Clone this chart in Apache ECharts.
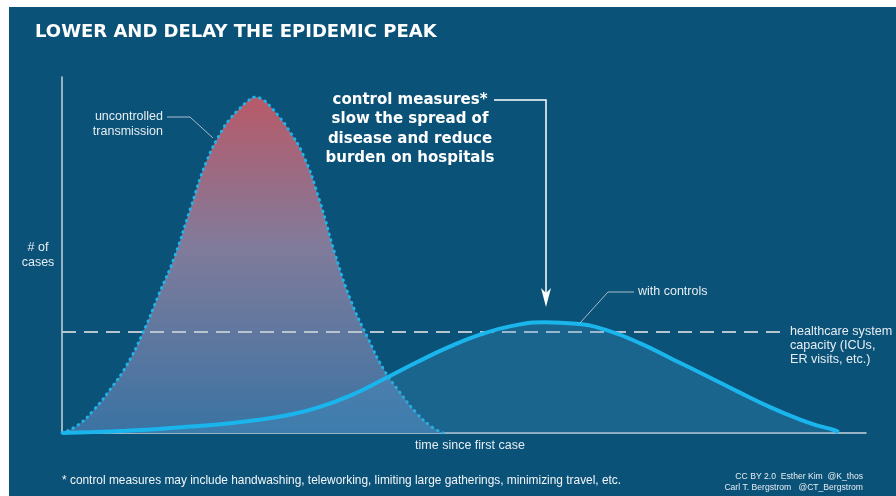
<!DOCTYPE html>
<html>
<head>
<meta charset="utf-8">
<script src="https://cdn.jsdelivr.net/npm/echarts@6/dist/echarts.min.js"></script>
<style>
  html, body { margin: 0; padding: 0; background: #ffffff; width: 896px; height: 496px; overflow: hidden; }
  #chart { position: absolute; left: 9px; top: 7px; width: 887px; height: 489px; }
</style>
</head>
<body>
<div id="chart"></div>
<script>
// ---- data (time in days since first case, cases in % of uncontrolled peak) ----
const uncontrolledDays  = [0, 2, 4, 6, 8, 10, 12, 14, 16, 18, 20, 21, 22, 23, 24, 25, 26, 27, 28, 30, 32, 34, 36, 38, 40, 42, 44, 46, 47.4];
const uncontrolledCases = [0, 2.4, 7, 13, 20, 29.5, 41, 52.5, 67, 81, 90.5, 93.8, 96.4, 98.6, 100, 99.2, 97, 94.2, 91, 82.8, 69.5, 53, 39, 28.5, 19, 12.2, 6.2, 1.8, 0];
const controlsDays  = [0, 4, 8, 12, 16, 20, 24, 28, 32, 36, 40, 44, 48, 52, 56, 60, 64, 68, 72, 76, 80, 84, 88, 92, 94, 96, 96.6];
const controlsCases = [0, 0.3, 0.7, 1.2, 1.9, 2.7, 3.8, 5.3, 7.7, 11.3, 16.0, 20.9, 25.5, 29.3, 31.9, 33.0, 32.5, 30.4, 26.6, 21.9, 17.2, 12.4, 7.8, 3.8, 2.2, 0.9, 0.2];
const capacityLevel = 30.1;
const capacityEndDay = 89.4;

const titleText = 'LOWER AND DELAY THE EPIDEMIC PEAK';
const uncontrolledLabel = ['uncontrolled', 'transmission'];
const controlNote = ['control measures*', 'slow the spread of', 'disease and reduce', 'burden on hospitals'];
const withControlsLabel = 'with controls';
const capacityLabel = ['healthcare system', 'capacity (ICUs,', 'ER visits, etc.)'];
const yAxisLabel = ['# of', 'cases'];
const xAxisLabel = 'time since first case';
const footnote = '* control measures may include handwashing, teleworking, limiting large gatherings, minimizing travel, etc.';
const credits = ['CC BY 2.0  Esther Kim  @K_thos', 'Carl T. Bergstrom   @CT_Bergstrom'];

// ---- chart ----
const OX = 9, OY = 7; // panel offset in page
const FONT = '"Liberation Sans", Arial, Helvetica, sans-serif';
const BOLDFONT = '"DejaVu Sans", "Liberation Sans", Arial, sans-serif';
const chart = echarts.init(document.getElementById('chart'), null, { renderer: 'canvas' });

function zip(a, b) { return a.map((v, i) => [v, b[i]]); }
function T(text, x, y, o) {
  o = o || {};
  return {
    type: 'text', x: x - OX, y: y - OY, z: 100,
    style: {
      text: text, fill: o.fill || '#ffffff',
      font: (o.weight || 'normal') + ' ' + (o.size || 12.5) + 'px ' + (o.family || FONT),
      textAlign: o.align || 'left', textVerticalAlign: 'middle'
    }
  };
}
function L(points, color, width) {
  return {
    type: 'polyline', z: 100,
    shape: { points: points.map(p => [p[0] - OX, p[1] - OY]) },
    style: { stroke: color, lineWidth: width, fill: null }
  };
}

const graphics = [];
graphics.push(T(titleText, 35, 32, { size: 18, weight: 'bold', family: BOLDFONT }));
uncontrolledLabel.forEach((s, i) => graphics.push(T(s, 163, 117 + i * 15, { align: 'right', fill: '#e6edf2' })));
graphics.push(L([[167, 117], [190, 117], [213, 138]], '#a9bccb', 1));
controlNote.forEach((s, i) => graphics.push(T(s, 410, 100 + i * 19.5, { align: 'center', size: 15, weight: 'bold', family: BOLDFONT })));
graphics.push(L([[494, 100], [546, 100], [546, 296]], '#ffffff', 1.5));
graphics.push({
  type: 'polygon', z: 100,
  shape: { points: [[541 - OX, 288 - OY], [546 - OX, 293 - OY], [551 - OX, 288 - OY], [546 - OX, 307 - OY]] },
  style: { fill: '#ffffff' }
});
graphics.push(T(withControlsLabel, 638, 292, { fill: '#e6edf2' }));
graphics.push(L([[634, 292], [608, 292], [580, 323]], '#a9bccb', 1));
capacityLabel.forEach((s, i) => graphics.push(T(s, 790, 332 + i * 14, { size: 12.6, fill: '#e6edf2' })));
yAxisLabel.forEach((s, i) => graphics.push(T(s, 38, 248 + i * 15, { align: 'center', fill: '#e6edf2' })));
graphics.push(T(xAxisLabel, 470, 446, { align: 'center', fill: '#e6edf2' }));
graphics.push(T(footnote, 62, 481, { size: 11.9, fill: '#f2f5f8' }));
credits.forEach((s, i) => graphics.push(T(s, 863, 477 + i * 11, { align: 'right', size: 8.6, fill: '#e6edf2' })));

const axisCommon = {
  type: 'value',
  axisLine: { show: true, onZero: false, lineStyle: { color: '#c9d4dd', width: 1.5 } },
  axisTick: { show: false },
  axisLabel: { show: false },
  splitLine: { show: false }
};

chart.setOption({
  animation: false,
  backgroundColor: '#0a5278',
  grid: { left: 53, right: 30, top: 70, bottom: 63 },
  xAxis: Object.assign({}, axisCommon, { min: 0, max: 100 }),
  yAxis: Object.assign({}, axisCommon, { min: 0, max: 106 }),
  graphic: graphics,
  series: [
    {
      name: 'uncontrolled transmission', type: 'line', z: 2,
      data: zip(uncontrolledDays, uncontrolledCases),
      showSymbol: false, smooth: 0.5,
      lineStyle: { color: '#22b4e8', width: 3, type: [0.5, 5.5], cap: 'round' },
      areaStyle: {
        opacity: 1,
        color: new echarts.graphic.LinearGradient(0, 0, 0, 1, [
          { offset: 0, color: '#b85a69' },
          { offset: 0.45, color: '#807b9b' },
          { offset: 1, color: '#3a73a3' }
        ])
      }
    },
    {
      name: 'capacity', type: 'line', z: 3,
      data: [[0, capacityLevel], [capacityEndDay, capacityLevel]],
      showSymbol: false,
      lineStyle: { color: '#b7c5d1', width: 2, type: [14, 8] }
    },
    {
      name: 'with controls', type: 'line', z: 4,
      data: zip(controlsDays, controlsCases),
      showSymbol: false, smooth: 0.5,
      lineStyle: { color: '#19b5ec', width: 4 },
      areaStyle: { color: 'rgba(70,150,200,0.4)' }
    }
  ]
});
</script>
</body>
</html>
